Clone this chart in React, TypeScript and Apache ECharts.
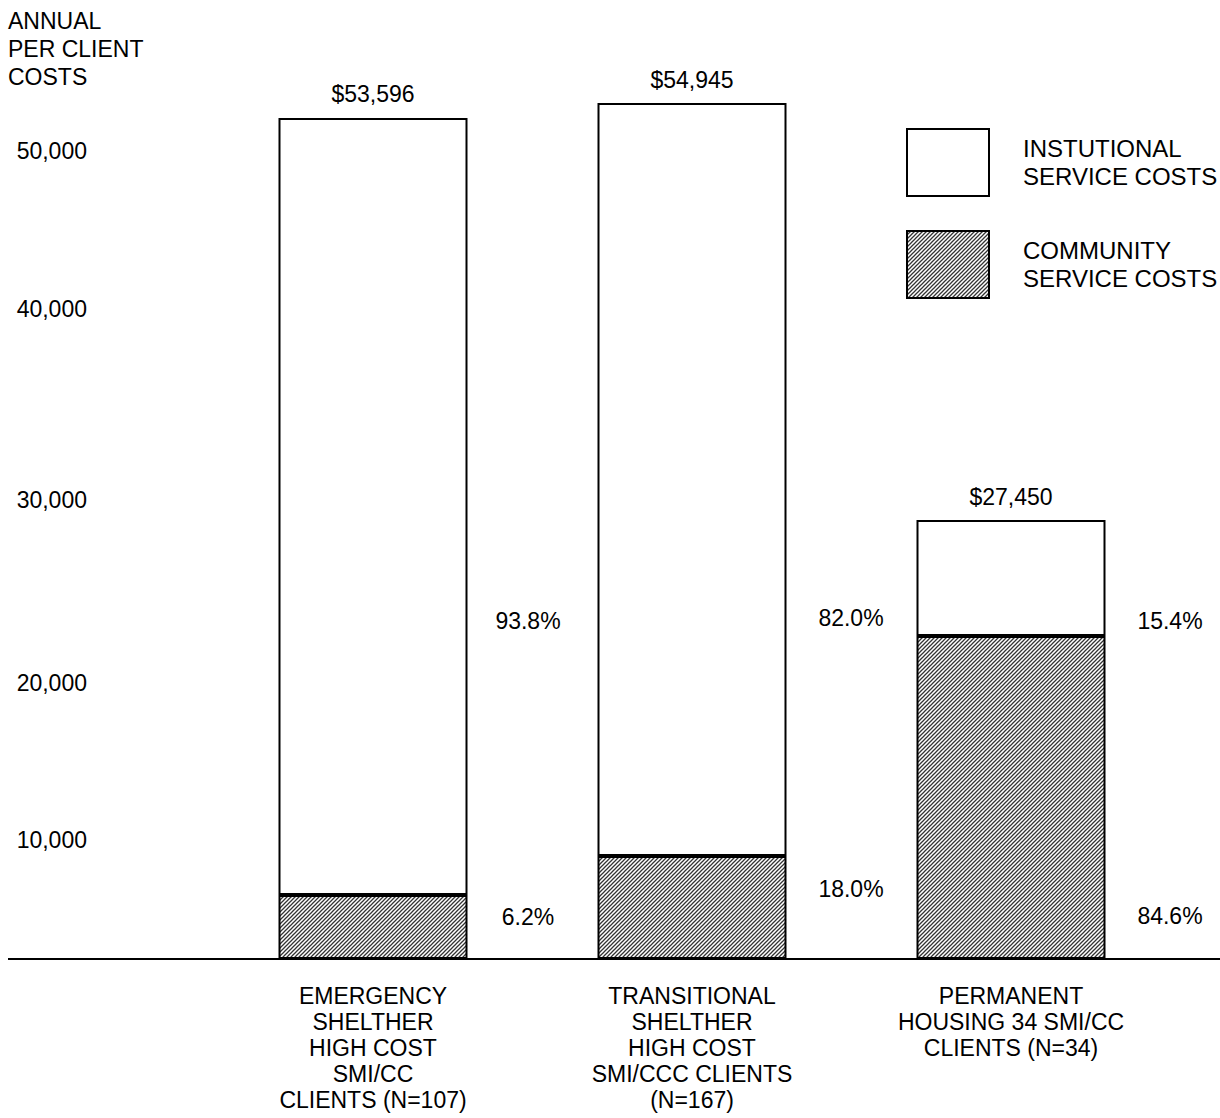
import React, { useEffect, useRef } from "react";
import * as echarts from "echarts";

const categories = [
  "EMERGENCY\nSHELTHER\nHIGH COST\nSMI/CC\nCLIENTS (N=107)",
  "TRANSITIONAL\nSHELTHER\nHIGH COST\nSMI/CCC CLIENTS\n(N=167)",
  "PERMANENT\nHOUSING 34 SMI/CC\nCLIENTS (N=34)",
];
const communityCosts = [4080, 6560, 20570];
const institutionalCosts = [49490, 47960, 7390];
const totalLabels = ["$53,596", "$54,945", "$27,450"];
const institutionalPct = ["93.8%", "82.0%", "15.4%"];
const communityPct = ["6.2%", "18.0%", "84.6%"];
const yTickLabels = ["50,000", "40,000", "30,000", "20,000", "10,000"];
const yTickLabelY = [151, 309, 500, 683, 840];
const seriesNames = ["INSTUTIONAL\nSERVICE COSTS", "COMMUNITY\nSERVICE COSTS"];

const FONT = "'Liberation Sans', Arial, Helvetica, sans-serif";
const FS = 23;

function makeHatch(): HTMLCanvasElement {
  const s = 4;
  const c = document.createElement("canvas");
  c.width = s;
  c.height = s;
  const ctx = c.getContext("2d")!;
  ctx.fillStyle = "#ffffff";
  ctx.fillRect(0, 0, s, s);
  ctx.strokeStyle = "#333333";
  ctx.lineWidth = 1.25;
  ctx.lineCap = "square";
  const seg = (x1: number, y1: number, x2: number, y2: number) => {
    ctx.beginPath();
    ctx.moveTo(x1, y1);
    ctx.lineTo(x2, y2);
    ctx.stroke();
  };
  seg(-1, s + 1, s + 1, -1);
  seg(-1, 1, 1, -1);
  seg(s - 1, s + 1, s + 1, s - 1);
  return c;
}

export default function App() {
  const ref = useRef<HTMLDivElement>(null);
  useEffect(() => {
    if (!ref.current) return;
    const chart = echarts.init(ref.current, null, { renderer: "svg" });
    const hatch = { image: makeHatch(), repeat: "repeat" } as any;

    const texts: any[] = [];
    texts.push({
      type: "text",
      x: 8,
      y: 7,
      style: {
        text: "ANNUAL\nPER CLIENT\nCOSTS",
        fontSize: FS,
        fontFamily: FONT,
        fill: "#000",
        lineHeight: 28,
        align: "left",
        verticalAlign: "top",
      },
    });
    yTickLabels.forEach((t, i) => {
      texts.push({
        type: "text",
        x: 87,
        y: yTickLabelY[i],
        style: { text: t, fontSize: FS, fontFamily: FONT, fill: "#000", align: "right", verticalAlign: "middle" },
      });
    });
    const pctX = [528, 851, 1170];
    const instPctY = [621, 618, 621];
    const commPctY = [917, 889, 916];
    institutionalPct.forEach((t, i) => {
      texts.push({
        type: "text",
        x: pctX[i],
        y: instPctY[i],
        style: { text: t, fontSize: FS, fontFamily: FONT, fill: "#000", align: "center", verticalAlign: "middle" },
      });
      texts.push({
        type: "text",
        x: pctX[i],
        y: commPctY[i],
        style: { text: communityPct[i], fontSize: FS, fontFamily: FONT, fill: "#000", align: "center", verticalAlign: "middle" },
      });
    });
    texts.push({
      type: "line",
      shape: { x1: 8, y1: 959, x2: 1220, y2: 959 },
      style: { stroke: "#000", lineWidth: 2 },
      z: 10,
    });

    chart.setOption({
      animation: false,
      backgroundColor: "#ffffff",
      textStyle: { fontFamily: FONT },
      grid: { left: 213.5, right: 49.5, top: 17, bottom: 159, containLabel: false },
      legend: {
        orient: "vertical",
        left: 906,
        top: 128,
        padding: 0,
        icon: "rect",
        itemWidth: 82,
        itemHeight: 67,
        itemGap: 33,
        data: seriesNames,
        textStyle: {
          fontSize: 24,
          fontFamily: FONT,
          color: "#000",
          lineHeight: 28,
          padding: [0, 0, 0, 29],
        },
        selectedMode: false,
      },
      xAxis: {
        type: "category",
        data: categories,
        axisLine: { show: false },
        axisTick: { show: false },
        axisLabel: {
          interval: 0,
          margin: 24,
          fontSize: FS,
          fontFamily: FONT,
          color: "#000",
          lineHeight: 26,
          align: "center",
        },
      },
      yAxis: {
        type: "value",
        min: 0,
        max: 60000,
        show: false,
        splitLine: { show: false },
      },
      series: [
        {
          name: seriesNames[1],
          type: "bar",
          stack: "total",
          data: communityCosts,
          barWidth: 189,
          itemStyle: { color: hatch, borderColor: "#000", borderWidth: 2 },
        },
        {
          name: seriesNames[0],
          type: "bar",
          stack: "total",
          data: institutionalCosts,
          barWidth: 189,
          itemStyle: { color: "#ffffff", borderColor: "#000", borderWidth: 2 },
          label: {
            show: true,
            position: "top",
            distance: 12,
            fontSize: FS,
            fontFamily: FONT,
            color: "#000",
            formatter: (p: any) => totalLabels[p.dataIndex],
          },
        },
      ],
      graphic: texts,
    });
    return () => chart.dispose();
  }, []);

  return (
    <div
      ref={ref}
      style={{ position: "absolute", left: 0, top: 0, width: 1220, height: 1118, background: "#fff" }}
    />
  );
}
